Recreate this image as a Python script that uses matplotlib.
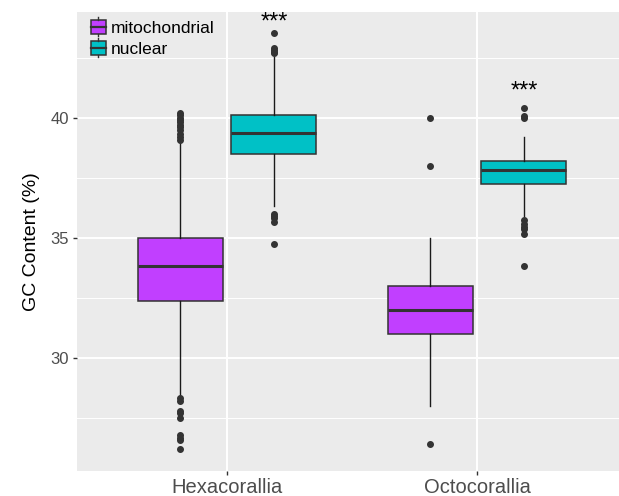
import matplotlib
matplotlib.use('Agg')
import matplotlib.pyplot as plt
from matplotlib.patches import Rectangle
from matplotlib.lines import Line2D
from matplotlib.legend_handler import HandlerBase

plt.rcParams['font.family'] = ['Liberation Sans', 'DejaVu Sans']

# categories and series
groups = ['Hexacorallia', 'Octocorallia']
series = ['mitochondrial', 'nuclear']
colors = ['#C13FFF', '#00C1C6']

# box summaries: whisker low, q1, median, q3, whisker high
mito_stats = [[28.45, 32.37, 33.84, 35.02, 39.0],
              [28.0, 31.0, 32.0, 33.0, 35.0]]
nuc_stats = [[36.33, 38.5, 39.38, 40.12, 42.55],
             [35.92, 37.25, 37.82, 38.22, 39.22]]

# outliers
mito_out = [[40.22, 40.12, 40.02, 39.92, 39.82, 39.72, 39.62, 39.5, 39.35, 39.2, 39.1,
             28.35, 28.2, 27.8, 27.7, 27.5, 26.8, 26.68, 26.58, 26.2],
            [40.0, 38.0, 26.4]]
nuc_out = [[43.55, 42.93, 42.85, 42.77, 42.7, 36.0, 35.9, 35.82, 35.65, 34.74],
           [40.43, 40.08, 40.0, 35.75, 35.58, 35.45, 35.36, 35.17, 33.83]]

# significance labels
stars = ['***', '***']
star_y = [43.98, 41.12]

fig = plt.figure(figsize=(6.19, 4.96), dpi=100)
ax = fig.add_axes([77/619, 1-471/496, 542/619, 459/496])
ax.set_facecolor('#EBEBEB')

dodge = 0.1875
bw = 0.34
edge = '#333333'

for si, (stats, outs) in enumerate([(mito_stats, mito_out), (nuc_stats, nuc_out)]):
    bxps = []
    for s, o in zip(stats, outs):
        bxps.append(dict(whislo=s[0], q1=s[1], med=s[2], q3=s[3], whishi=s[4], fliers=o))
    pos = [i + 1 + (dodge if si else -dodge) for i in range(len(groups))]
    ax.bxp(bxps, positions=pos, widths=bw, patch_artist=True, showcaps=False,
           boxprops=dict(facecolor=colors[si], edgecolor=edge, linewidth=1.1),
           medianprops=dict(color=edge, linewidth=2.2),
           whiskerprops=dict(color='#1a1a1a', linewidth=1.0),
           flierprops=dict(marker='o', markerfacecolor=edge, markeredgecolor=edge,
                           markersize=4, linestyle='none'),
           zorder=3)

for i, (txt, y) in enumerate(zip(stars, star_y)):
    ax.text(i + 1 + dodge, y, txt, ha='center', va='center', fontsize=17, zorder=4)

ax.set_xlim(0.4, 2.568)
ax.set_ylim(25.29, 44.42)
ax.set_xticks([1, 2])
ax.set_xticklabels(groups, fontsize=14.5, color='#4D4D4D')
ax.set_yticks([30, 35, 40])
ax.set_yticklabels(['30', '35', '40'], fontsize=12, color='#4D4D4D')
ax.set_yticks([27.5, 32.5, 37.5, 42.5], minor=True)
ax.set_ylabel('GC Content (%)', fontsize=14, labelpad=7)
ax.tick_params(axis='both', which='major', length=3, width=1, color='#333333', pad=3)
ax.tick_params(axis='x', which='major', pad=2)
ax.tick_params(axis='y', which='minor', length=0)
ax.grid(which='major', color='white', linewidth=1.4, zorder=0)
ax.grid(which='minor', axis='y', color='white', linewidth=0.7, zorder=0)
ax.set_axisbelow(True)
for sp in ax.spines.values():
    sp.set_visible(False)


class BoxKey(HandlerBase):
    def create_artists(self, legend, orig, xd, yd, w, h, fontsize, trans):
        x0 = xd
        y0 = yd - 0.1 * h
        bh = h * 1.05
        r = Rectangle((x0, y0), w, bh, facecolor=orig.get_facecolor(), edgecolor=edge,
                      linewidth=1.1, transform=trans)
        m = Line2D([x0, x0 + w], [y0 + bh / 2] * 2, color=edge, linewidth=1.6, transform=trans)
        t = Line2D([x0 + w / 2] * 2, [y0 + bh, y0 + bh + 2], color=edge, linewidth=1, transform=trans)
        b = Line2D([x0 + w / 2] * 2, [y0, y0 - 2], color=edge, linewidth=1, transform=trans)
        return [r, m, t, b]


handles = [Rectangle((0, 0), 1, 1, facecolor=c) for c in colors]
ax.legend(handles, series, handler_map={Rectangle: BoxKey()}, loc='upper left',
          bbox_to_anchor=(0.025, 0.982), frameon=False, fontsize=12.5,
          handlelength=0.9, handleheight=0.8, handletextpad=0.25, labelspacing=0.3,
          borderpad=0, borderaxespad=0)

fig.savefig('out.png', dpi=100)
